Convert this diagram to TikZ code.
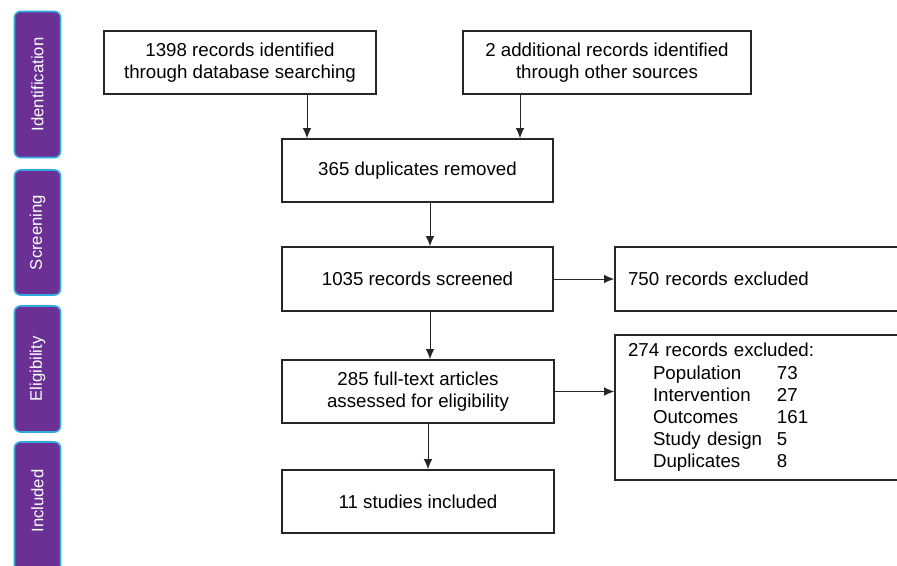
\documentclass[tikz,border=0pt]{standalone}
\usepackage{fontspec}
\setmainfont{Liberation Sans}
\usetikzlibrary{arrows.meta}
\definecolor{tabfill}{HTML}{6A3094}
\definecolor{tabedge}{HTML}{33A8DE}
\definecolor{boxedge}{HTML}{262626}
\begin{document}
\begin{tikzpicture}[x=1pt,y=-1pt,
  box/.style={draw=boxedge, line width=1.6pt, fill=white, inner sep=0pt,
    font=\fontsize{18.7}{22.2}\selectfont, align=center},
  lbox/.style={box, align=left, inner xsep=13pt},
  tab/.style={draw=tabedge, line width=1.6pt, fill=tabfill, rounded corners=6pt,
    minimum width=46pt, inner sep=0pt},
  tablabel/.style={text=white, rotate=90, font=\fontsize{16.7}{19}\selectfont},
  arr/.style={-{Latex[length=10pt,width=8.5pt]}, line width=0.9pt, black!85}]
\useasboundingbox (0,0) rectangle (897,565);
\clip (0,0) rectangle (897,565);
\fill[white] (0,0) rectangle (897,565);

% side tabs
\node[tab, minimum height=146pt] (tid) at (37.5,84.5) {};
\node[tablabel] (lid) at (tid.center) {Identification};
\node[tab, minimum height=125pt] (tsc) at (37.5,232.5) {};
\node[tablabel] (lsc) at (tsc.center) {Screening};
\node[tab, minimum height=126pt] (tel) at (37.5,369) {};
\node[tablabel] (lel) at (tel.center) {Eligibility};
\node[tab, minimum height=136pt] (tin) at (37.5,510) {};
\node[tablabel] (lin) at (37.5,501) {Included};

% boxes
\node[box, minimum width=272pt, minimum height=63pt] (b1) at (240,62.5)
  {1398 records identified\\through database searching};
\node[box, minimum width=288pt, minimum height=63pt] (b2) at (607,62.5)
  {2 additional records identified\\through other sources};
\node[box, minimum width=271pt, minimum height=63pt] (b3) at (417.5,170.5)
  {365 duplicates removed};
\node[box, minimum width=271pt, minimum height=64pt] (b4) at (417.5,279)
  {1035 records screened};
\node[box, minimum width=272pt, minimum height=63pt] (b5) at (418,391.5)
  {285 full-text articles\\assessed for eligibility};
\node[box, minimum width=272pt, minimum height=63pt] (b6) at (418,501.5)
  {11 studies included};
\node[lbox, minimum width=295pt, minimum height=64pt, text width=269pt] (x1) at (762.5,279)
  {750 records excluded};
\node[lbox, minimum width=295pt, minimum height=145pt, text width=269pt] (x2) at (762.5,407.5)
  {274 records excluded:\\
   \hspace*{25pt}\makebox[124pt][l]{Population}73\\
   \hspace*{25pt}\makebox[124pt][l]{Intervention}27\\
   \hspace*{25pt}\makebox[124pt][l]{Outcomes}161\\
   \hspace*{25pt}\makebox[124pt][l]{Study design}5\\
   \hspace*{25pt}\makebox[124pt][l]{Duplicates}8};

% connectors
\coordinate (c1) at (307,0);
\coordinate (c2) at (520,0);
\coordinate (c3) at (430,0);
\coordinate (c4) at (428,0);
\draw[arr] (b1.south -| c1) -- (b3.north -| c1);
\draw[arr] (b2.south -| c2) -- (b3.north -| c2);
\draw[arr] (b3.south -| c3) -- (b4.north -| c3);
\draw[arr] (b4.east) -- (x1.west |- b4.east);
\draw[arr] (b4.south -| c3) -- (b5.north -| c3);
\draw[arr] (b5.east) -- (x2.west |- b5.east);
\draw[arr] (b5.south -| c4) -- (b6.north -| c4);
\end{tikzpicture}
\end{document}
